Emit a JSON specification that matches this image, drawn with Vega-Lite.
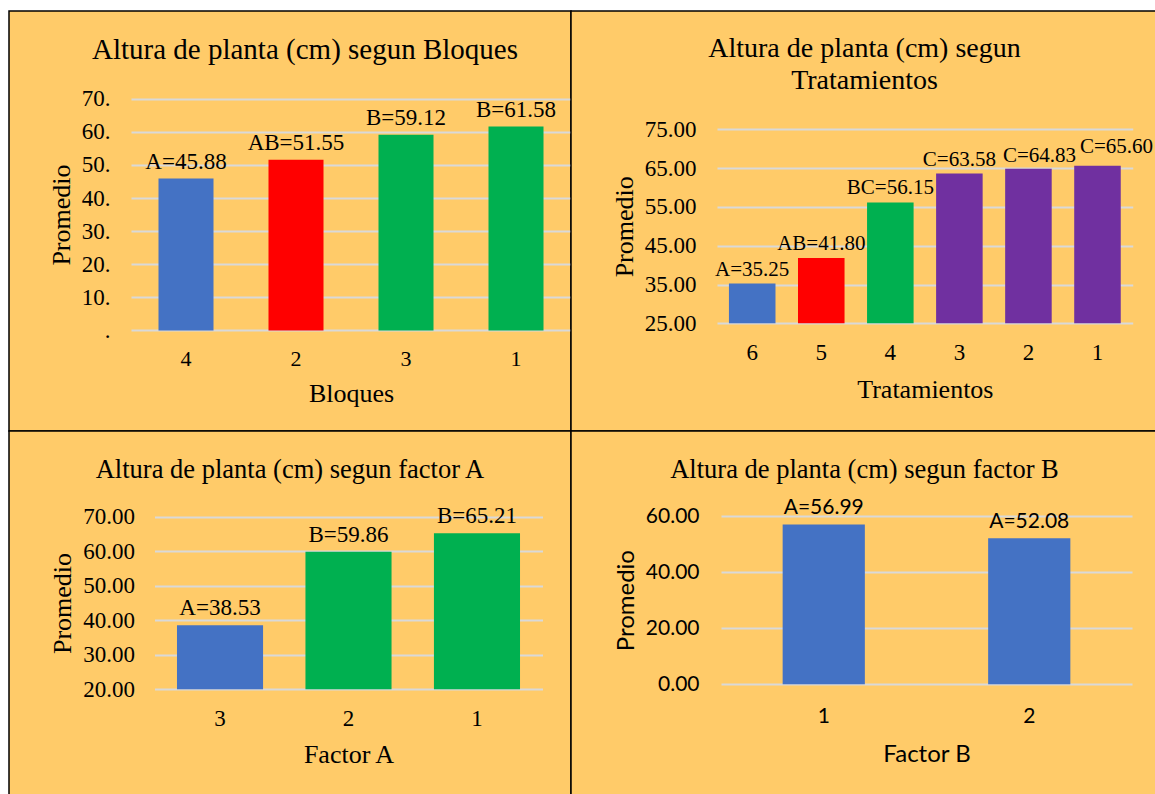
{
  "$schema": "https://vega.github.io/schema/vega-lite/v6.json",
  "background": "white",
  "padding": {"left": 8, "top": 10, "right": 0, "bottom": 0},
  "columns": 2,
  "spacing": 0,
  "bounds": "flush",
  "config": {
    "view": {"fill": "#FFCB69", "stroke": "#000000", "strokeWidth": 1.5},
    "axis": {
      "domain": false, "ticks": false,
      "labelColor": "#000000", "titleColor": "#000000",
      "titleFontWeight": "normal",
      "gridColor": "#D9D9D9", "gridWidth": 2, "gridOpacity": 1
    },
    "axisX": {"grid": false, "labelAngle": 0},
    "title": {"fontWeight": "normal", "color": "#000000", "anchor": "middle", "frame": "group"}
  },
  "concat": [
    {
      "width": 562, "height": 420,
      "title": {"text": "Altura de planta (cm) segun Bloques", "font": "Liberation Serif", "fontSize": 29, "offset": -54, "dx": 15},
      "data": {"values": [
        {"bloque": "4", "promedio": 45.88, "grupo": "A", "etiqueta": "A=45.88"},
        {"bloque": "2", "promedio": 51.55, "grupo": "AB", "etiqueta": "AB=51.55"},
        {"bloque": "3", "promedio": 59.12, "grupo": "B", "etiqueta": "B=59.12"},
        {"bloque": "1", "promedio": 61.58, "grupo": "B", "etiqueta": "B=61.58"}
      ]},
      "encoding": {
        "x": {"field": "bloque", "type": "nominal", "sort": ["4", "2", "3", "1"],
          "scale": {"range": [122, 562], "paddingInner": 0.5, "paddingOuter": 0.25},
          "axis": {"title": "Bloques", "offset": -101, "labelFont": "Liberation Serif", "titleFont": "Liberation Serif", "labelFontSize": 22, "labelPadding": 18, "titleFontSize": 26, "titlePadding": 11}},
        "y": {"field": "promedio", "type": "quantitative",
          "scale": {"domain": [0, 70], "range": [319.4, 87.7]},
          "axis": {"title": "Promedio", "offset": -122, "values": [0, 10, 20, 30, 40, 50, 60, 70],
            "labelExpr": "datum.value === 0 ? '.' : datum.value + '.'",
            "labelFont": "Liberation Serif", "titleFont": "Liberation Serif",
            "labelFontSize": 23, "labelPadding": 21, "titleFontSize": 26, "titlePadding": 7}}
      },
      "layer": [
        {"mark": {"type": "bar"},
          "encoding": {
            "y2": {"datum": 0},
            "color": {"field": "grupo", "type": "nominal", "legend": null,
              "scale": {"domain": ["A", "AB", "B", "BC", "C"], "range": ["#4472C4", "#FF0000", "#00B050", "#00B050", "#7030A0"]}}
          }},
        {"mark": {"type": "text", "baseline": "alphabetic", "dy": -10, "fontSize": 23, "font": "Liberation Serif", "color": "#000000"},
          "encoding": {"text": {"field": "etiqueta"}}}
      ]
    },
    {
      "width": 587, "height": 420,
      "title": {"text": ["Altura de planta (cm) segun", "Tratamientos"], "font": "Liberation Serif", "fontSize": 28, "lineHeight": 31.6, "offset": -84, "dx": 0},
      "data": {"values": [
        {"tratamiento": "6", "promedio": 35.25, "grupo": "A", "etiqueta": "A=35.25"},
        {"tratamiento": "5", "promedio": 41.80, "grupo": "AB", "etiqueta": "AB=41.80"},
        {"tratamiento": "4", "promedio": 56.15, "grupo": "BC", "etiqueta": "BC=56.15"},
        {"tratamiento": "3", "promedio": 63.58, "grupo": "C", "etiqueta": "C=63.58"},
        {"tratamiento": "2", "promedio": 64.83, "grupo": "C", "etiqueta": "C=64.83"},
        {"tratamiento": "1", "promedio": 65.60, "grupo": "C", "etiqueta": "C=65.60"}
      ]},
      "encoding": {
        "x": {"field": "tratamiento", "type": "nominal", "sort": ["6", "5", "4", "3", "2", "1"],
          "scale": {"range": [146, 561.7], "paddingInner": 0.326, "paddingOuter": 0.173},
          "axis": {"title": "Tratamientos", "offset": -108, "labelFont": "Liberation Serif", "titleFont": "Liberation Serif", "labelFontSize": 23, "labelPadding": 18, "titleFontSize": 26, "titlePadding": 12}},
        "y": {"field": "promedio", "type": "quantitative",
          "scale": {"domain": [25, 75], "range": [312.3, 118.3]},
          "axis": {"title": "Promedio", "offset": -146, "values": [25, 35, 45, 55, 65, 75], "format": ".2f",
            "labelFont": "Liberation Serif", "titleFont": "Liberation Serif",
            "labelFontSize": 23, "labelPadding": 21, "titleFontSize": 26, "titlePadding": 7}}
      },
      "layer": [
        {"mark": {"type": "bar"},
          "encoding": {
            "y2": {"datum": 25},
            "color": {"field": "grupo", "type": "nominal", "legend": null,
              "scale": {"domain": ["A", "AB", "B", "BC", "C"], "range": ["#4472C4", "#FF0000", "#00B050", "#00B050", "#7030A0"]}}
          }},
        {"transform": [{"filter": "datum.tratamiento !== '2' && datum.tratamiento !== '1'"}],
          "mark": {"type": "text", "baseline": "alphabetic", "dy": -8, "fontSize": 21, "font": "Liberation Serif", "color": "#000000"},
          "encoding": {"text": {"field": "etiqueta"}}},
        {"transform": [{"filter": "datum.tratamiento === '2'"}],
          "mark": {"type": "text", "baseline": "alphabetic", "dx": 11, "dy": -7, "fontSize": 21, "font": "Liberation Serif", "color": "#000000"},
          "encoding": {"text": {"field": "etiqueta"}}},
        {"transform": [{"filter": "datum.tratamiento === '1'"}],
          "mark": {"type": "text", "baseline": "alphabetic", "dx": 19, "dy": -13, "fontSize": 21, "font": "Liberation Serif", "color": "#000000"},
          "encoding": {"text": {"field": "etiqueta"}}}
      ]
    },
    {
      "width": 562, "height": 366,
      "title": {"text": "Altura de planta (cm) segun factor A", "font": "Liberation Serif", "fontSize": 26.5, "offset": -52, "dx": 0},
      "data": {"values": [
        {"factorA": "3", "promedio": 38.53, "grupo": "A", "etiqueta": "A=38.53"},
        {"factorA": "2", "promedio": 59.86, "grupo": "B", "etiqueta": "B=59.86"},
        {"factorA": "1", "promedio": 65.21, "grupo": "B", "etiqueta": "B=65.21"}
      ]},
      "encoding": {
        "x": {"field": "factorA", "type": "nominal", "sort": ["3", "2", "1"],
          "scale": {"range": [145.5, 533.5], "paddingInner": 0.33, "paddingOuter": 0.175},
          "axis": {"title": "Factor A", "offset": -108, "labelFont": "Liberation Serif", "titleFont": "Liberation Serif", "labelFontSize": 23, "labelPadding": 18, "titleFontSize": 26, "titlePadding": 11}},
        "y": {"field": "promedio", "type": "quantitative",
          "scale": {"domain": [20, 70], "range": [258.3, 85.7]},
          "axis": {"title": "Promedio", "offset": -145.5, "values": [20, 30, 40, 50, 60, 70], "format": ".2f",
            "labelFont": "Liberation Serif", "titleFont": "Liberation Serif",
            "labelFontSize": 23, "labelPadding": 20, "titleFontSize": 26, "titlePadding": 7}}
      },
      "layer": [
        {"mark": {"type": "bar"},
          "encoding": {
            "y2": {"datum": 20},
            "color": {"field": "grupo", "type": "nominal", "legend": null,
              "scale": {"domain": ["A", "AB", "B", "BC", "C"], "range": ["#4472C4", "#FF0000", "#00B050", "#00B050", "#7030A0"]}}
          }},
        {"mark": {"type": "text", "baseline": "alphabetic", "dy": -10, "fontSize": 23, "font": "Liberation Serif", "color": "#000000"},
          "encoding": {"text": {"field": "etiqueta"}}}
      ]
    },
    {
      "width": 587, "height": 366,
      "title": {"text": "Altura de planta (cm) segun factor B", "font": "Liberation Serif", "fontSize": 26.5, "offset": -52, "dx": 0},
      "data": {"values": [
        {"factorB": "1", "promedio": 56.99, "grupo": "A", "etiqueta": "A=56.99"},
        {"factorB": "2", "promedio": 52.08, "grupo": "A", "etiqueta": "A=52.08"}
      ]},
      "encoding": {
        "x": {"field": "factorB", "type": "nominal", "sort": ["1", "2"],
          "scale": {"range": [150, 561], "paddingInner": 0.6, "paddingOuter": 0.3},
          "axis": {"title": "Factor B", "offset": -113, "labelFont": "Lato", "titleFont": "Lato", "labelFontSize": 21, "labelPadding": 21, "titleFontSize": 24, "titlePadding": 16}},
        "y": {"field": "promedio", "type": "quantitative",
          "scale": {"domain": [0, 60], "range": [253.3, 85]},
          "axis": {"title": "Promedio", "offset": -150, "values": [0, 20, 40, 60], "format": ".2f",
            "labelFont": "Lato", "titleFont": "Lato", "labelFontSize": 21, "labelPadding": 22, "titleFontSize": 24, "titlePadding": 7}}
      },
      "layer": [
        {"mark": {"type": "bar"},
          "encoding": {
            "y2": {"datum": 0},
            "color": {"field": "grupo", "type": "nominal", "legend": null,
              "scale": {"domain": ["A", "AB", "B", "BC", "C"], "range": ["#4472C4", "#FF0000", "#00B050", "#00B050", "#7030A0"]}}
          }},
        {"mark": {"type": "text", "baseline": "alphabetic", "dy": -10, "fontSize": 21, "font": "Lato", "color": "#000000"},
          "encoding": {"text": {"field": "etiqueta"}}}
      ]
    }
  ]
}
